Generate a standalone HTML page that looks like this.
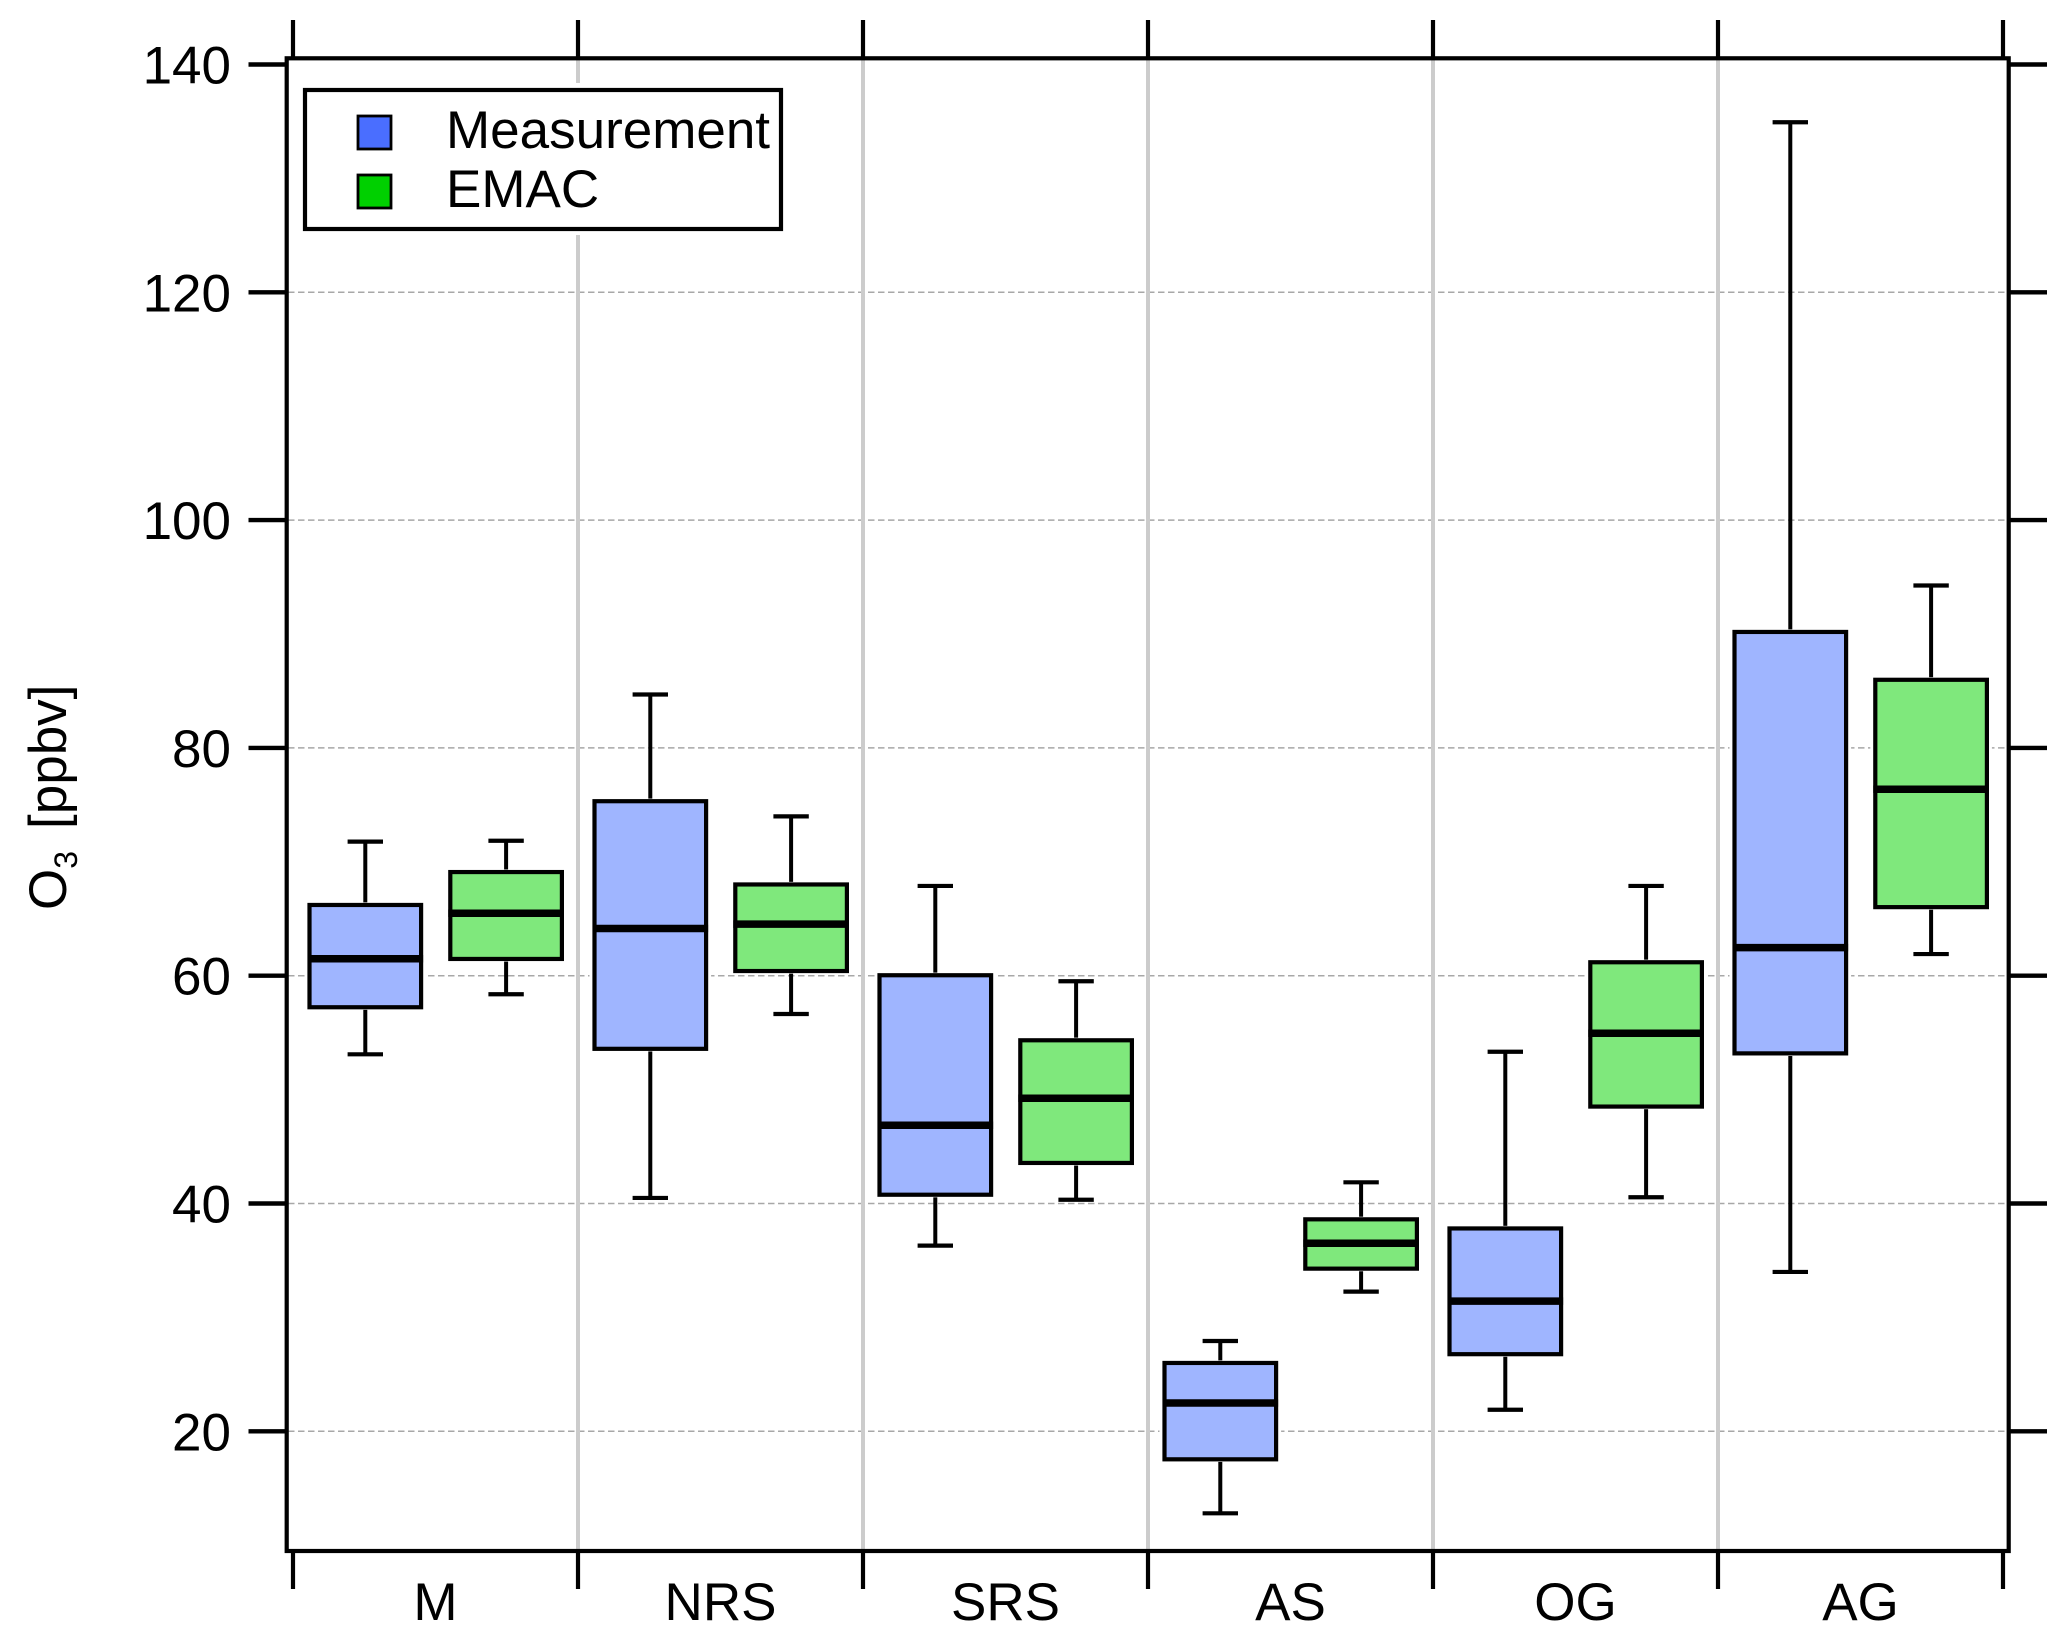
<!DOCTYPE html>
<html lang="en">
<head>
<meta charset="utf-8">
<title>O3 box plot: Measurement vs EMAC</title>
<style>
  html, body { margin: 0; padding: 0; background: #fff; }
  svg { display: block; font-family: "Liberation Sans", Arial, sans-serif; fill: #000; }
</style>
</head>
<body>
<svg id="chart" xmlns="http://www.w3.org/2000/svg" width="2067" height="1640" viewBox="0 0 2067 1640">
  <rect x="0" y="0" width="2067" height="1640" fill="#fff"/>
  <g id="grid"></g>
  <g id="legend-knockout-layer">
    <rect x="298" y="83" width="490" height="152" fill="#fff"/>
  </g>
  <g id="marks"></g>
  <g id="axes"></g>
  <g id="legend">
    <rect x="305" y="90" width="476" height="139" fill="#fff" stroke="#000" stroke-width="4.2"/>
    <rect x="358" y="116" width="33" height="33" fill="#4a6eff" stroke="#000" stroke-width="2.8"/>
    <text x="446" y="148" font-size="53">Measurement</text>
    <rect x="358" y="175" width="33" height="33" fill="#00d000" stroke="#000" stroke-width="2.8"/>
    <text x="446" y="207" font-size="53">EMAC</text>
  </g>
  <text transform="translate(66,910) rotate(-90)" font-size="53">O<tspan dy="11" font-size="32">3</tspan><tspan dy="-11" dx="22">[ppbv]</tspan></text>
</svg>
<script>
const categories = ['M', 'NRS', 'SRS', 'AS', 'OG', 'AG'];
const yTickValues = [20, 40, 60, 80, 100, 120, 140];
const gridValues = [20, 40, 60, 80, 100, 120];

const measLow  = [53.1, 40.49, 36.3, 12.8, 21.89, 33.99];
const measQ1   = [57.23, 53.58, 40.77, 17.54, 26.77, 53.18];
const measMed  = [61.49, 64.14, 46.87, 22.48, 31.43, 62.46];
const measQ3   = [66.21, 75.32, 60.04, 26.0, 37.81, 90.18];
const measHigh = [71.77, 84.69, 67.88, 27.93, 53.32, 134.93];

const emacLow  = [58.37, 56.64, 40.33, 32.26, 40.55, 61.9];
const emacQ1   = [61.47, 60.41, 43.56, 34.28, 48.51, 66.02];
const emacMed  = [65.48, 64.53, 49.24, 36.51, 54.95, 76.37];
const emacQ3   = [69.1, 68.01, 54.33, 38.61, 61.18, 85.98];
const emacHigh = [71.85, 73.99, 59.51, 41.86, 67.88, 94.26];

const NS = 'http://www.w3.org/2000/svg';
function y(v) { return 1431.3 - (v - 20) * 11.39; }
function edgeX(i) { return 293 + i * 285; }
function groupX(i) { return edgeX(i) + 142.5; }

function make(tag, attrs, parent) {
  const e = document.createElementNS(NS, tag);
  for (const k in attrs) e.setAttribute(k, attrs[k]);
  parent.appendChild(e);
  return e;
}

const gridG = document.getElementById('grid');
const axesG = document.getElementById('axes');
const marksG = document.getElementById('marks');

gridValues.forEach(function (v) {
  const g = make('line', { x1: 288, x2: 2007, y1: y(v), y2: y(v), stroke: '#a8a8a8', 'stroke-width': 1.5, 'stroke-dasharray': '6.5 3.5' }, gridG);
  
  
});

for (let i = 1; i < categories.length; i++) {
  const s = make('line', { x1: edgeX(i), x2: edgeX(i), y1: 58, y2: 1551, stroke: '#cccccc', 'stroke-width': 4 }, gridG);
  
  
}

function drawBox(cx, low, q1, med, q3, high, fill, name) {
  const half = 55.8;
  const capHalf = 17.7;
  const group = make('g', {}, marksG);
  
  

  const whisker = make('line', { x1: cx, x2: cx, y1: y(high), y2: y(low), stroke: '#000', 'stroke-width': 4 }, group);
  
  

  const capHigh = make('line', { x1: cx - capHalf, x2: cx + capHalf, y1: y(high), y2: y(high), stroke: '#000', 'stroke-width': 4.2 }, group);
  
  

  const capLow = make('line', { x1: cx - capHalf, x2: cx + capHalf, y1: y(low), y2: y(low), stroke: '#000', 'stroke-width': 4.2 }, group);
  
  

  const halo = make('rect', { x: cx - half - 5, y: y(q3) - 2.6, width: 2 * half + 10, height: y(q1) - y(q3) + 5.2, fill: '#fff' }, group);
  
  

  const box = make('rect', { x: cx - half, y: y(q3), width: 2 * half, height: y(q1) - y(q3), fill: fill, stroke: '#000', 'stroke-width': 4.2 }, group);
  
  

  const median = make('line', { x1: cx - half - 2, x2: cx + half + 2, y1: y(med), y2: y(med), stroke: '#000', 'stroke-width': 7.5 }, group);
  
  
}

categories.forEach(function (c, i) {
  const key = c.toLowerCase();
  drawBox(groupX(i) - 70.2, measLow[i], measQ1[i], measMed[i], measQ3[i], measHigh[i], '#9fb5ff', 'measurement-' + key);
  drawBox(groupX(i) + 70.6, emacLow[i], emacQ1[i], emacMed[i], emacQ3[i], emacHigh[i], '#7fe87c', 'emac-' + key);
});

const frame = make('rect', { x: 286.7, y: 58.3, width: 1722, height: 1492.7, fill: 'none', stroke: '#000', 'stroke-width': 4.2 }, axesG);



yTickValues.forEach(function (v) {
  const tl = make('line', { x1: 248.5, x2: 287, y1: y(v), y2: y(v), stroke: '#000', 'stroke-width': 4.4 }, axesG);
  
  

  const tr = make('line', { x1: 2009, x2: 2047, y1: y(v), y2: y(v), stroke: '#000', 'stroke-width': 4.4 }, axesG);
  
  

  const lab = make('text', { x: 231, y: y(v) + 19, 'font-size': 53, 'text-anchor': 'end' }, axesG);
  lab.textContent = String(v);
  
  
});

for (let i = 0; i <= categories.length; i++) {
  const tt = make('line', { x1: edgeX(i), x2: edgeX(i), y1: 20, y2: 58, stroke: '#000', 'stroke-width': 4.2 }, axesG);
  
  

  const tb = make('line', { x1: edgeX(i), x2: edgeX(i), y1: 1551, y2: 1589, stroke: '#000', 'stroke-width': 4.2 }, axesG);
  
  
}

categories.forEach(function (c, i) {
  const lab = make('text', { x: groupX(i), y: 1620, 'font-size': 53, 'text-anchor': 'middle' }, axesG);
  lab.textContent = c;
  
  
});
</script>
</body>
</html>
